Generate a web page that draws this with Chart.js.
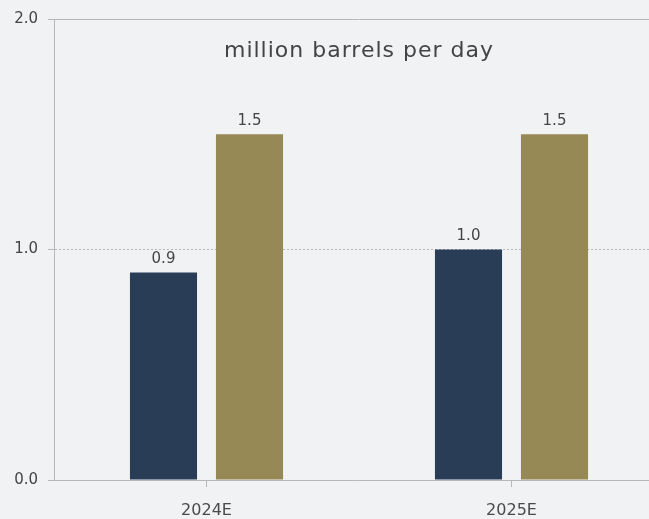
<!DOCTYPE html>
<html>
<head>
<meta charset="utf-8">
<script src="https://cdn.jsdelivr.net/npm/chart.js@4"></script>
<style>
  html, body { margin: 0; padding: 0; background: #f1f2f4; overflow: hidden; }
  #wrap { position: relative; width: 649px; height: 519px; overflow: hidden; }
  #title { position: absolute; left: 54px; width: 610px; top: 37px; text-align: center;
           font: 22px "DejaVu Sans", sans-serif; letter-spacing: 1px; color: #444; }
</style>
</head>
<body>
<div id="wrap">
  <canvas id="myChart" width="664" height="519" style="width:664px;height:519px"></canvas>
  <div id="title">million barrels per day</div>
</div>
<script>
const years = ['2024E', '2025E'];
const seriesA = [0.9, 1.0];
const seriesB = [1.5, 1.5];
const yTicks = [0, 1, 2];

const FONT = '"DejaVu Sans", sans-serif';

// value labels above each bar
const valueLabels = {
  id: 'valueLabels',
  afterDatasetsDraw(chart) {
    const c = chart.ctx;
    c.save();
    c.font = '15px ' + FONT;
    c.fillStyle = '#444';
    c.textAlign = 'center';
    c.textBaseline = 'bottom';
    chart.data.datasets.forEach((ds, i) => {
      chart.getDatasetMeta(i).data.forEach((bar, j) => {
        c.fillText(ds.data[j].toFixed(1), bar.x, bar.y - 6);
      });
    });
    c.restore();
  }
};

const ctx = document.getElementById('myChart').getContext('2d');
new Chart(ctx, {
  type: 'bar',
  data: {
    labels: years,
    datasets: [
      { label: 'A', data: seriesA, backgroundColor: '#2a3d57', barPercentage: 0.78, categoryPercentage: 0.564 },
      { label: 'B', data: seriesB, backgroundColor: '#968955', barPercentage: 0.78, categoryPercentage: 0.564 }
    ]
  },
  options: {
    responsive: false,
    animation: false,
    layout: { padding: { top: 19, left: 0, right: 0, bottom: 0 } },
    plugins: { legend: { display: false }, tooltip: { enabled: false } },
    scales: {
      x: {
        grid: { offset: false, drawOnChartArea: false, drawTicks: true, tickLength: 7, color: '#b5b7ba' },
        border: { color: '#b5b7ba', width: 1 },
        ticks: { color: '#4a4a4a', font: { family: FONT, size: 16 }, padding: 14 },
        afterFit: s => { s.height = 39; }
      },
      y: {
        min: 0, max: 2,
        afterBuildTicks: s => { s.ticks = yTicks.map(v => ({ value: v })); },
        grid: { color: '#b5b7ba', tickLength: 6 },
        border: {
          color: '#b5b7ba', width: 1,
          dash: c => (c.tick && c.tick.value === 1) ? [2, 2] : []
        },
        ticks: {
          color: '#444', font: { family: FONT, size: 15 }, padding: 10,
          callback: v => v.toFixed(1)
        },
        afterFit: s => { s.width = 54; }
      }
    }
  },
  plugins: [valueLabels]
});
</script>
</body>
</html>
